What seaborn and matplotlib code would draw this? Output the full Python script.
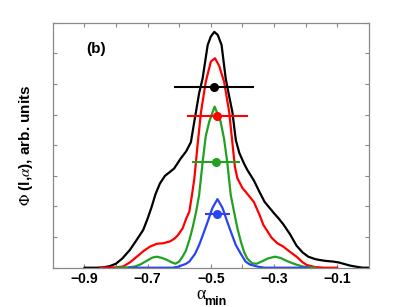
import matplotlib
matplotlib.use('Agg')
import matplotlib.pyplot as plt
import seaborn as sns
import pandas as pd

# curves (alpha_min, Phi)
black_x = [-0.90, -0.86, -0.84, -0.82, -0.80, -0.78, -0.756, -0.735, -0.714, -0.70, -0.687, -0.675,
           -0.661, -0.645, -0.629, -0.616, -0.595, -0.578, -0.563, -0.555, -0.547, -0.537, -0.526,
           -0.51, -0.50, -0.489, -0.478, -0.466, -0.453, -0.442, -0.432, -0.421, -0.41, -0.395,
           -0.385, -0.364, -0.345, -0.33, -0.302, -0.285, -0.271, -0.25, -0.229, -0.21, -0.192,
           -0.17, -0.155, -0.135, -0.113, -0.095, -0.081, -0.06, -0.039, -0.02, 0.0]
black_y = [0.0, 0.0, 0.01, 0.05, 0.13, 0.3, 0.58, 0.9, 1.23, 1.6, 1.99, 2.4,
           2.75, 3.0, 3.13, 3.24, 3.57, 3.8, 4.1, 4.6, 5.09, 5.7, 6.18,
           7.27, 7.55, 7.70, 7.6, 7.27, 6.18, 5.6, 5.09, 4.17, 3.75, 3.4,
           3.2, 2.85, 2.45, 2.15, 1.8, 1.6, 1.42, 1.1, 0.72, 0.5, 0.36,
           0.28, 0.25, 0.22, 0.2, 0.17, 0.13, 0.07, 0.03, 0.0, 0.0]

red_x = [-0.85, -0.80, -0.777, -0.755, -0.734, -0.712, -0.692, -0.671, -0.65, -0.629, -0.615,
         -0.605, -0.589, -0.578, -0.568, -0.56, -0.552, -0.542, -0.531, -0.516, -0.50, -0.487,
         -0.474, -0.458, -0.442, -0.432, -0.424, -0.416, -0.40, -0.39, -0.364, -0.345, -0.334,
         -0.308, -0.29, -0.271, -0.25, -0.229, -0.21, -0.197, -0.17, -0.14, -0.10]
red_y = [0.0, 0.01, 0.04, 0.18, 0.36, 0.55, 0.69, 0.78, 0.8, 0.86, 0.95,
         1.05, 1.29, 1.6, 1.83, 2.35, 2.92, 4.0, 5.09, 6.07, 6.73, 6.84,
         6.6, 6.07, 5.09, 4.1, 3.3, 2.92, 2.6, 2.48, 2.15, 1.7, 1.4,
         0.98, 0.8, 0.69, 0.52, 0.36, 0.18, 0.09, 0.02, 0.0, 0.0]

green_x = [-0.80, -0.76, -0.74, -0.724, -0.70, -0.685, -0.671, -0.655, -0.64, -0.625, -0.612,
           -0.60, -0.59, -0.579, -0.568, -0.558, -0.547, -0.537, -0.526, -0.516, -0.505, -0.488,
           -0.469, -0.458, -0.448, -0.437, -0.426, -0.416, -0.405, -0.395, -0.385, -0.369, -0.355,
           -0.34, -0.32, -0.297, -0.28, -0.26, -0.24, -0.229, -0.21, -0.19, -0.17]
green_y = [0.0, 0.01, 0.04, 0.1, 0.24, 0.33, 0.36, 0.32, 0.26, 0.18, 0.13,
           0.2, 0.35, 0.55, 0.9, 1.29, 1.8, 2.37, 3.44, 4.3, 4.77, 5.26,
           4.77, 4.2, 3.44, 2.37, 1.8, 1.29, 0.85, 0.52, 0.3, 0.14, 0.13,
           0.2, 0.3, 0.36, 0.32, 0.22, 0.14, 0.1, 0.04, 0.01, 0.0]

blue_x = [-0.76, -0.62, -0.60, -0.594, -0.58, -0.568, -0.55, -0.537, -0.524, -0.51, -0.495, -0.479,
          -0.463, -0.448, -0.434, -0.421, -0.405, -0.39, -0.376, -0.364, -0.35, -0.33, -0.19]
blue_y = [0.0, 0.0, 0.04, 0.07, 0.12, 0.2, 0.45, 0.74, 1.1, 1.5, 1.95, 2.24,
          1.95, 1.5, 1.1, 0.74, 0.45, 0.2, 0.1, 0.07, 0.03, 0.0, 0.0]

# mean alpha_min with spread, and the height where it is drawn
pt_x = [-0.490, -0.479, -0.484, -0.479]
pt_y = [5.91, 4.96, 3.44, 1.75]
pt_err = [0.127, 0.095, 0.075, 0.041]

colors = ['black', '#ff0000', '#22a022', '#2a44f2']

sns.set_style('ticks')
plt.rcParams['font.family'] = ['Liberation Sans', 'DejaVu Sans']
plt.rcParams['mathtext.fontset'] = 'stix'
plt.rcParams['text.color'] = 'black'
plt.rcParams['axes.labelcolor'] = 'black'

fig = plt.figure(figsize=(4.07, 3.07), dpi=100)
ax = fig.add_axes([0.1295, 0.128, 0.777, 0.798])

curves = [(black_x, black_y), (red_x, red_y), (green_x, green_y), (blue_x, blue_y)]
for (cx, cy), c in zip(curves, colors):
    df = pd.DataFrame({'a': cx, 'phi': cy})
    sns.lineplot(data=df, x='a', y='phi', color=c, lw=1.6, ax=ax, sort=False)

for x, y, e, c in zip(pt_x, pt_y, pt_err, colors):
    ax.errorbar(x, y, xerr=e, fmt='o', color=c, ms=5.5, lw=1.5, capsize=0, zorder=5)

ax.set_xlim(-1.0, 0.0)
ax.set_ylim(0, 8)
xt = [-0.9, -0.8, -0.7, -0.6, -0.5, -0.4, -0.3, -0.2, -0.1]
ax.set_xticks(xt)
ax.set_xticklabels(['\u22120.9', '', '\u22120.7', '', '\u22120.5', '', '\u22120.3', '', '\u22120.1'],
                   fontweight='bold', fontsize=10)
ax.set_yticks(range(0, 9))
ax.set_yticklabels([])
ax.tick_params(direction='in', length=3, color='#888888', labelcolor='black',
               top=True, right=True, pad=3)
for s in ax.spines.values():
    s.set_color('#888888')
    s.set_linewidth(0.9)

ax.set_xlabel('')
ax.text(0.470, -0.110, '\u03b1', transform=ax.transAxes, fontsize=13,
        family=['Liberation Serif', 'DejaVu Serif'], ha='center', va='center')
ax.text(0.515, -0.138, 'min', transform=ax.transAxes, fontsize=9, fontweight='bold',
        ha='center', va='center')
ax.set_ylabel(r'$\Phi$ (l,$\alpha$), arb. units', fontsize=11, fontweight='bold', labelpad=10)
ax.text(0.105, 0.893, '(b)', transform=ax.transAxes, fontsize=11, fontweight='bold', va='center')

fig.savefig('out.png', dpi=100)
